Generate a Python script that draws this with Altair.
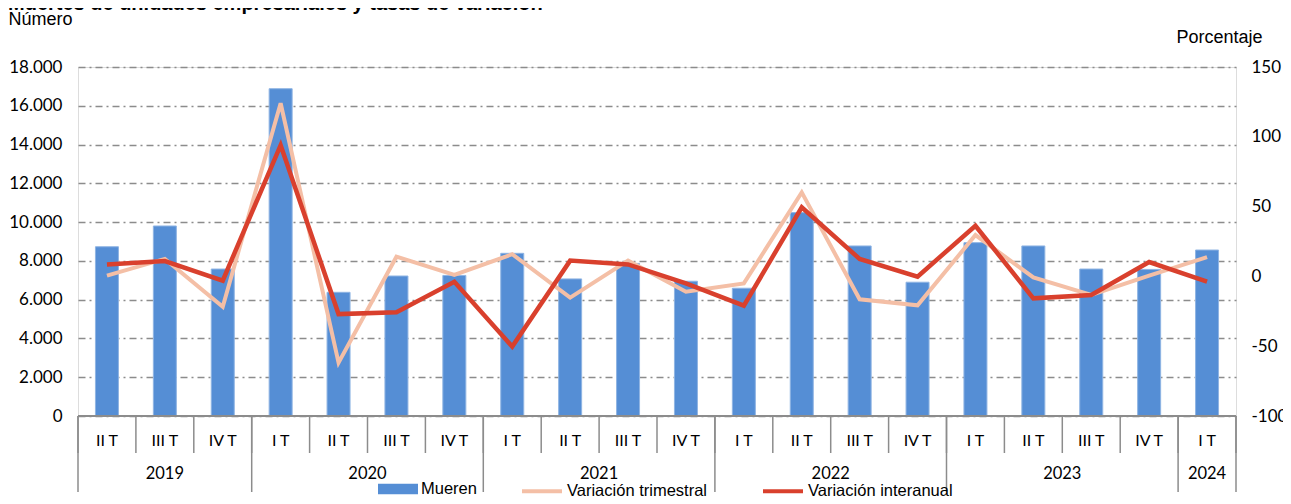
import altair as alt
import pandas as pd

# ---------------- data ----------------
quarters = ["II T", "III T", "IV T", "I T", "II T", "III T", "IV T", "I T", "II T", "III T",
            "IV T", "I T", "II T", "III T", "IV T", "I T", "II T", "III T", "IV T", "I T"]
mueren = [8730, 9800, 7580, 16880, 6380, 7220, 7250, 8390, 7070, 7870,
          6950, 6590, 10490, 8770, 6900, 8940, 8770, 7580, 7560, 8560]
trimestral = [0.5, 12.5, -21.7, 124.0, -61.8, 14.1, 1.0, 15.9, -15.2, 11.3,
              -11.0, -5.0, 60.2, -16.4, -20.7, 29.6, -0.7, -13.3, 0.5, 13.8]
interanual = [8.6, 11.0, -3.0, 94.0, -27.0, -25.7, -3.8, -50.3, 11.3, 8.6,
              -5.0, -21.0, 49.5, 12.5, -0.2, 36.3, -15.7, -13.3, 10.3, -3.8]
year_labels = ["2019", "2020", "2021", "2022", "2023", "2024"]
year_first = [0, 3, 7, 11, 15, 19]
year_last = [3, 7, 11, 15, 19, 20]

TITLE = "Muertes de unidades empresariales y tasas de variación"
S_TRIM = "Variación trimestral"
S_INTER = "Variación interanual"

df = pd.DataFrame({
    "idx": list(range(len(quarters))),
    "q": quarters,
    "mueren": mueren,
    S_TRIM: trimestral,
    S_INTER: interanual,
})
ydf = pd.DataFrame({"year": year_labels, "first": year_first, "last": year_last})
bdf = pd.DataFrame({"b": list(range(len(quarters) + 1))})
ybdf = pd.DataFrame({"b": year_first + [year_last[-1]]})

W, H = 1158, 349
GRAY = "#8c8c8c"
xs = alt.Scale(domain=[0, len(quarters)], nice=False, zero=False, padding=0)

bars = alt.Chart(df).transform_calculate(
    xc="datum.idx + 0.5", serie="'Mueren'"
).mark_bar(size=23, stroke="#8FB4E3", strokeWidth=1).encode(
    x=alt.X("xc:Q", scale=xs, axis=None),
    y=alt.Y("mueren:Q", scale=alt.Scale(domain=[0, 18000], nice=False, padding=0),
            axis=alt.Axis(values=list(range(0, 18001, 2000)),
                          labelExpr="replace(format(datum.value, ','), ',', '.')",
                          grid=True, gridDash=[7, 4, 2, 4], gridColor=GRAY, gridWidth=1.3,
                          domain=False, ticks=False, labelPadding=16,
                          labelFont="Lato", labelFontSize=17, labelColor="#000",
                          title="Número", titleAngle=0, titleX=-70, titleY=-43,
                          titleAlign="left", titleBaseline="alphabetic",
                          titleFont="Liberation Sans", titleFontWeight="normal",
                          titleFontSize=18, titleColor="#000")),
    color=alt.Color("serie:N", scale=alt.Scale(domain=["Mueren"], range=["#558ED5"]),
                    legend=alt.Legend(orient="none", legendX=300, legendY=402, title=None,
                                      symbolType="M-1,-0.26H1V0.26H-1Z", symbolSize=1600,
                                      symbolStrokeWidth=0, labelFont="Liberation Sans",
                                      labelFontSize=16.5, labelColor="#000", labelOffset=3,
                                      padding=0)),
)

baseline = alt.Chart(bdf.head(1)).mark_rule(color=GRAY, strokeWidth=2).encode(
    x=alt.value(0), x2=alt.value(W), y=alt.value(H)
)

sep_q = alt.Chart(bdf).mark_rule(color=GRAY, strokeWidth=1.5).encode(
    x=alt.X("b:Q", scale=xs, axis=None), y=alt.value(H), y2=alt.value(H + 37)
)
sep_y = alt.Chart(ybdf).mark_rule(color=GRAY, strokeWidth=1.5).encode(
    x=alt.X("b:Q", scale=xs, axis=None), y=alt.value(H), y2=alt.value(H + 76)
)

qlabels = alt.Chart(df).transform_calculate(xc="datum.idx + 0.5").mark_text(
    font="Lato", fontSize=16, color="#000", baseline="middle", align="center"
).encode(x=alt.X("xc:Q", scale=xs, axis=None), y=alt.value(374), text="q:N")

ylabels = alt.Chart(ydf).transform_calculate(xc="(datum.first + datum.last) / 2").mark_text(
    font="Lato", fontSize=16.5, color="#000", baseline="middle", align="center"
).encode(x=alt.X("xc:Q", scale=xs, axis=None), y=alt.value(407), text="year:N")

title = alt.Chart(pd.DataFrame({"t": [TITLE]})).mark_text(
    font="Liberation Sans", fontSize=20, fontWeight="bold", color="#000",
    align="left", baseline="alphabetic"
).encode(x=alt.value(-70), y=alt.value(-57), text="t:N")

stroke_enc = alt.Stroke(
    "serie:N",
    scale=alt.Scale(domain=[S_TRIM, S_INTER], range=["#F4BFA6", "#D9402D"]),
    legend=alt.Legend(orient="none", legendX=442, legendY=402, title=None,
                      direction="horizontal", symbolType="M-1,0H1", symbolSize=1600,
                      symbolStrokeWidth=4, labelFont="Liberation Sans", labelFontSize=16.5,
                      labelColor="#000", labelOffset=3, columnPadding=48, padding=0),
)
y_right = alt.Y("pct:Q", scale=alt.Scale(domain=[-100, 150], nice=False),
                axis=alt.Axis(orient="right", values=[-100, -50, 0, 50, 100, 150],
                              labelExpr="'' + datum.value", grid=False, domain=False,
                              ticks=False, labelPadding=15, labelFont="Lato",
                              labelFontSize=17, labelColor="#000",
                              title="Porcentaje", titleAngle=0, titleX=26, titleY=-25,
                              titleAlign="right", titleBaseline="alphabetic",
                              titleFont="Liberation Sans", titleFontWeight="normal",
                              titleFontSize=18, titleColor="#000"))

base_lines = alt.Chart(df).transform_fold([S_TRIM, S_INTER], as_=["serie", "pct"]).transform_calculate(
    xc="datum.idx + 0.5")

line_trim = base_lines.transform_filter(alt.datum.serie == S_TRIM).mark_line(strokeWidth=4).encode(
    x=alt.X("xc:Q", scale=xs, axis=None), y=y_right, stroke=stroke_enc, order="idx:Q")
line_inter = base_lines.transform_filter(alt.datum.serie == S_INTER).mark_line(strokeWidth=4.5).encode(
    x=alt.X("xc:Q", scale=xs, axis=None), y=y_right, stroke=stroke_enc, order="idx:Q")

left = alt.layer(bars, baseline, sep_q, sep_y, qlabels, ylabels, title)
right = alt.layer(line_trim, line_inter)

chart = alt.layer(left, right).resolve_scale(y="independent").properties(
    width=W, height=H,
    padding={"left": 70, "top": 59, "right": 47, "bottom": 80},
    autosize=alt.AutoSizeParams(type="none"),
).configure_view(stroke=None).configure(background="white")

chart.save("out.html", embed_options={"renderer": "svg", "actions": False})
